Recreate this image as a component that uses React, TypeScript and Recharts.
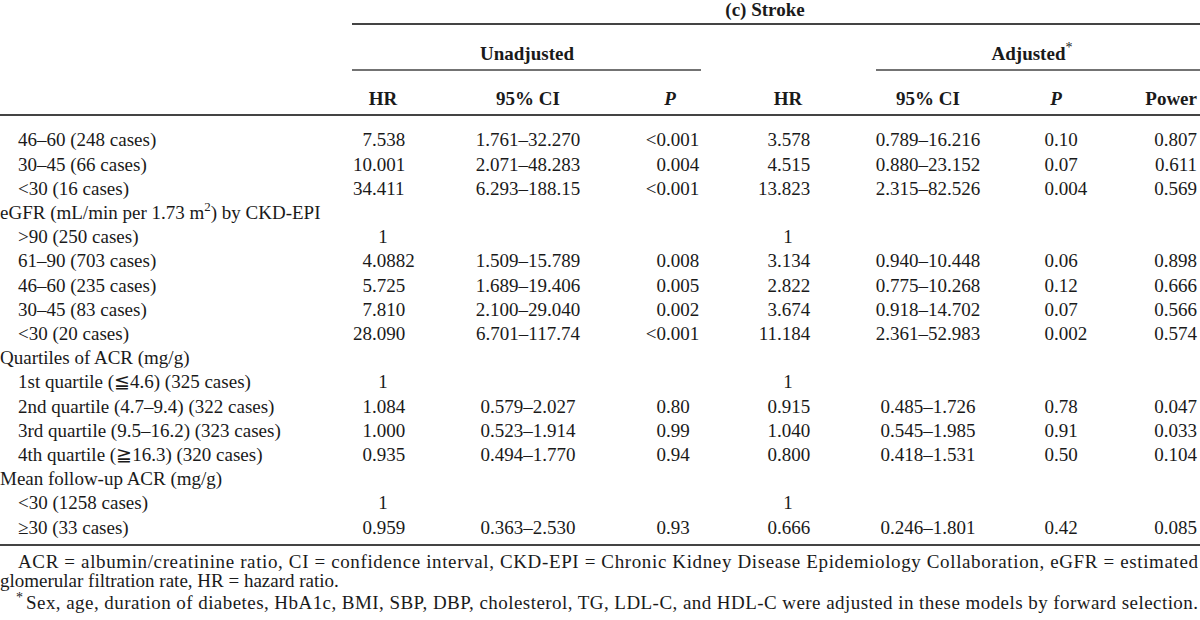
import React from "react";
import { ScatterChart, Scatter, XAxis, YAxis, ReferenceLine } from "recharts";

// table content, one entry per body row
const rowLabels = [
  "46–60 (248 cases)",
  "30–45 (66 cases)",
  "<30 (16 cases)",
  "eGFR (mL/min per 1.73 m²) by CKD-EPI",
  ">90 (250 cases)",
  "61–90 (703 cases)",
  "46–60 (235 cases)",
  "30–45 (83 cases)",
  "<30 (20 cases)",
  "Quartiles of ACR (mg/g)",
  "1st quartile (≦4.6) (325 cases)",
  "2nd quartile (4.7–9.4) (322 cases)",
  "3rd quartile (9.5–16.2) (323 cases)",
  "4th quartile (≧16.3) (320 cases)",
  "Mean follow-up ACR (mg/g)",
  "<30 (1258 cases)",
  "≥30 (33 cases)",
];
const groupRows = [3, 9, 14];

const hrUnadj = ["7.538", "10.001", "34.411", "", "1", "4.0882", "5.725", "7.810", "28.090", "", "1", "1.084", "1.000", "0.935", "", "1", "0.959"];
const ciUnadj = ["1.761–32.270", "2.071–48.283", "6.293–188.15", "", "", "1.509–15.789", "1.689–19.406", "2.100–29.040", "6.701–117.74", "", "", "0.579–2.027", "0.523–1.914", "0.494–1.770", "", "", "0.363–2.530"];
const pUnadj = ["<0.001", "0.004", "<0.001", "", "", "0.008", "0.005", "0.002", "<0.001", "", "", "0.80", "0.99", "0.94", "", "", "0.93"];
const hrAdj = ["3.578", "4.515", "13.823", "", "1", "3.134", "2.822", "3.674", "11.184", "", "1", "0.915", "1.040", "0.800", "", "1", "0.666"];
const ciAdj = ["0.789–16.216", "0.880–23.152", "2.315–82.526", "", "", "0.940–10.448", "0.775–10.268", "0.918–14.702", "2.361–52.983", "", "", "0.485–1.726", "0.545–1.985", "0.418–1.531", "", "", "0.246–1.801"];
const pAdj = ["0.10", "0.07", "0.004", "", "", "0.06", "0.12", "0.07", "0.002", "", "", "0.78", "0.91", "0.50", "", "", "0.42"];
const power = ["0.807", "0.611", "0.569", "", "", "0.898", "0.666", "0.566", "0.574", "", "", "0.047", "0.033", "0.104", "", "", "0.085"];

const title = "(c) Stroke";
const groupHeads = ["Unadjusted", "Adjusted"];
const colHeads = ["HR", "95% CI", "P", "HR", "95% CI", "P", "Power"];
const notes = [
  "ACR = albumin/creatinine ratio, CI = confidence interval, CKD-EPI = Chronic Kidney Disease Epidemiology Collaboration, eGFR = estimated",
  "glomerular filtration rate, HR = hazard ratio.",
  "Sex, age, duration of diabetes, HbA1c, BMI, SBP, DBP, cholesterol, TG, LDL-C, and HDL-C were adjusted in these models by forward selection.",
];

// layout
const W = 1200;
const H = 620;
const FONT = "'Liberation Serif', 'Times New Roman', serif";
const FS = 19;
const ROW0 = 142;
const STEP = 24.2;
const INK = "#1a1a1a";
const RULE = "#444";

type Align = "dec" | "mid" | "end";
type Col = { vals: string[]; x: number; align: Align; center?: number };

const cols: Col[] = [
  { vals: hrUnadj, x: 372, align: "dec", center: 383 },
  { vals: ciUnadj, x: 528, align: "mid" },
  { vals: pUnadj, x: 666, align: "dec" },
  { vals: hrAdj, x: 777, align: "dec", center: 788 },
  { vals: ciAdj, x: 928, align: "mid" },
  { vals: pAdj, x: 1054, align: "dec" },
  { vals: power, x: 1197, align: "end" },
];
const headX = [383, 528, 670, 788, 928, 1056, 1197];

type Cell = { x: number; y: number; text: string; kind: string; align?: string; center?: number };

const cells: Cell[] = [];
rowLabels.forEach((label, i) => {
  const isGroup = groupRows.includes(i);
  cells.push({ x: isGroup ? 0 : 18, y: ROW0 + i * STEP, text: label, kind: isGroup ? "group" : "label" });
  cols.forEach((c) => {
    if (c.vals[i]) cells.push({ x: c.x, y: ROW0 + i * STEP, text: c.vals[i], kind: "value", align: c.align, center: c.center });
  });
});

const headCells: Cell[] = [
  { x: 765, y: 16, text: title, kind: "bold" },
  { x: 527, y: 60, text: groupHeads[0], kind: "bold" },
  { x: 1032, y: 60, text: groupHeads[1], kind: "boldstar" },
  ...colHeads.map((h, j) => ({ x: headX[j], y: 105, text: h, kind: j === 6 ? "boldend" : h === "P" ? "italic" : "bold" })),
];

const noteCells: Cell[] = [
  { x: 18, y: 568, text: notes[0], kind: "note0" },
  { x: 0, y: 587, text: notes[1], kind: "note1" },
  { x: 26, y: 609, text: notes[2], kind: "note2" },
];

const renderLabel = (text: string) => {
  const m = text.match(/^(.*)m²(.*)$/);
  if (!m) return text;
  return (
    <>
      {m[1]}m<tspan dy={-7} fontSize={13}>2</tspan>
      <tspan dy={7}>{m[2]}</tspan>
    </>
  );
};

const CellShape = (props: any) => {
  const { cx, cy, payload } = props;
  const p: Cell = payload;
  const base = { fontFamily: FONT, fontSize: FS, fill: INK };
  if (p.kind === "label" || p.kind === "group") {
    return (
      <text x={cx} y={cy} {...base} textAnchor="start" dominantBaseline="middle">
        {renderLabel(p.text)}
      </text>
    );
  }
  if (p.kind === "value") {
    if (p.align === "mid") {
      return <text x={cx} y={cy} {...base} textAnchor="middle" dominantBaseline="middle">{p.text}</text>;
    }
    if (p.align === "end") {
      return <text x={cx} y={cy} {...base} textAnchor="end" dominantBaseline="middle">{p.text}</text>;
    }
    const dot = p.text.indexOf(".");
    if (dot < 0) {
      return <text x={p.center ?? cx} y={cy} {...base} textAnchor="middle" dominantBaseline="middle">{p.text}</text>;
    }
    return (
      <g>
        <text x={cx} y={cy} {...base} textAnchor="end" dominantBaseline="middle">{p.text.slice(0, dot)}</text>
        <text x={cx} y={cy} {...base} textAnchor="start" dominantBaseline="middle">{p.text.slice(dot)}</text>
      </g>
    );
  }
  if (p.kind === "bold" || p.kind === "italic" || p.kind === "boldend" || p.kind === "boldstar") {
    return (
      <text
        x={cx}
        y={cy}
        {...base}
        fontWeight="bold"
        fontStyle={p.kind === "italic" ? "italic" : "normal"}
        textAnchor={p.kind === "boldend" ? "end" : "middle"}
      >
        {p.text}
        {p.kind === "boldstar" && <tspan dy={-8} fontSize={14} fontWeight="normal">*</tspan>}
      </text>
    );
  }
  // footnotes
  const nb = { fontFamily: FONT, fontSize: 19, fill: INK };
  if (p.kind === "note0") {
    return <text x={cx} y={cy} {...nb} textLength={W - 2 - cx} lengthAdjust="spacing">{p.text}</text>;
  }
  if (p.kind === "note2") {
    return (
      <g>
        <text x={cx - 10} y={cy - 7} {...nb} fontSize={14}>*</text>
        <text x={cx} y={cy} {...nb} textLength={W - 2 - cx} lengthAdjust="spacing">{p.text}</text>
      </g>
    );
  }
  return <text x={cx} y={cy} {...nb}>{p.text}</text>;
};

const App: React.FC = () => {
  return (
    <div style={{ position: "absolute", left: 0, top: 0, width: W, height: H, background: "#fff" }}>
      <ScatterChart width={W} height={H} margin={{ top: 0, right: 0, bottom: 0, left: 0 }}>
        <XAxis type="number" dataKey="x" domain={[0, W]} hide allowDataOverflow />
        <YAxis type="number" dataKey="y" domain={[0, H]} reversed hide allowDataOverflow />
        <ReferenceLine segment={[{ x: 352, y: 24 }, { x: W, y: 24 }]} stroke={RULE} strokeWidth={2} />
        <ReferenceLine segment={[{ x: 352, y: 70 }, { x: 701, y: 70 }]} stroke={RULE} strokeWidth={1.5} />
        <ReferenceLine segment={[{ x: 876, y: 70 }, { x: W, y: 70 }]} stroke={RULE} strokeWidth={1.5} />
        <ReferenceLine segment={[{ x: 0, y: 115 }, { x: W, y: 115 }]} stroke={RULE} strokeWidth={2} />
        <ReferenceLine segment={[{ x: 0, y: 545 }, { x: W, y: 545 }]} stroke={RULE} strokeWidth={2} />
        <Scatter data={headCells} shape={CellShape} isAnimationActive={false} />
        <Scatter data={cells} shape={CellShape} isAnimationActive={false} />
        <Scatter data={noteCells} shape={CellShape} isAnimationActive={false} />
      </ScatterChart>
    </div>
  );
};

export default App;
